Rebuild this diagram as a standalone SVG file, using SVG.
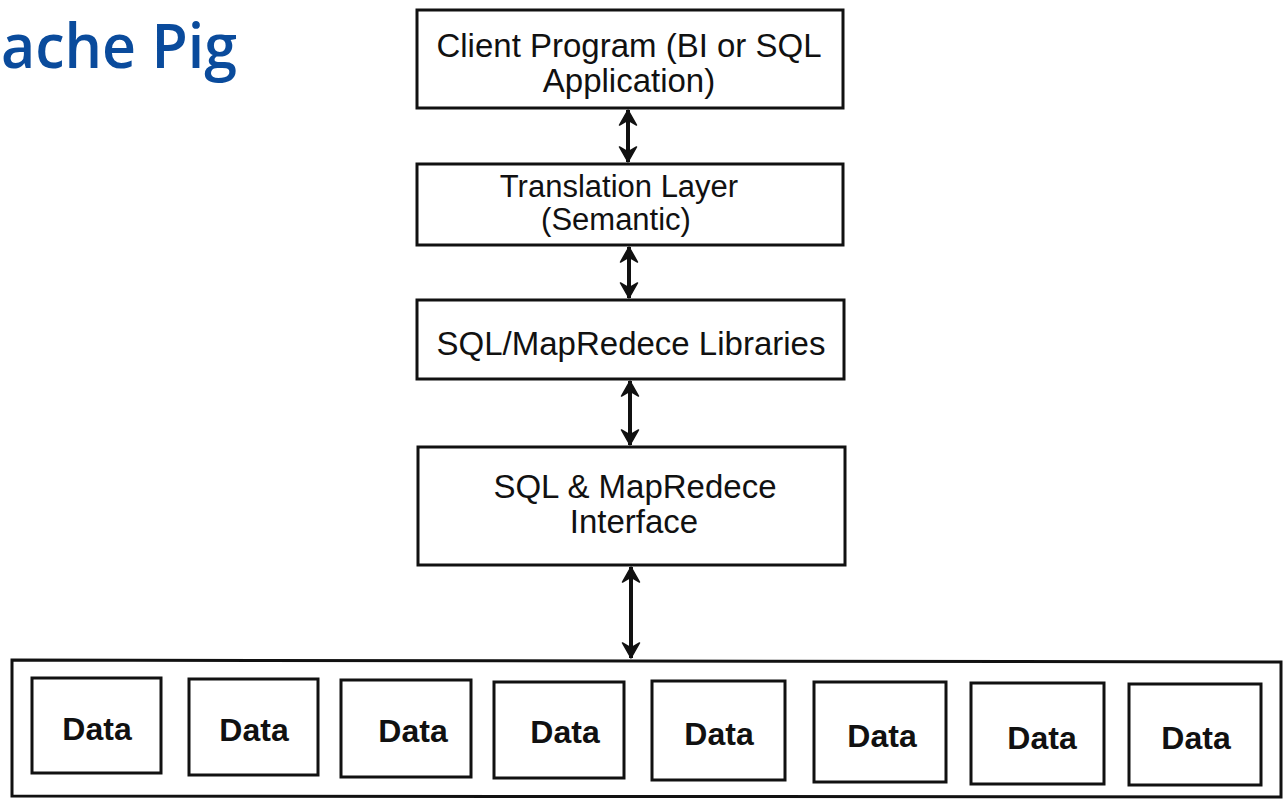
<svg xmlns="http://www.w3.org/2000/svg" width="1287" height="800" viewBox="0 0 1287 800">
  <defs>
    <marker id="head" viewBox="0 0 18 20" refX="16" refY="10" markerWidth="18" markerHeight="20" markerUnits="userSpaceOnUse" orient="auto-start-reverse">
      <path d="M1,1.5 L16,10 L1,18.5 L6,10 Z" fill="#111" stroke="#111" stroke-width="1.5" stroke-linejoin="round"/>
    </marker>
  </defs>
  <style>
    .box { fill: #fff; stroke: #111; stroke-width: 3; }
    .lbl { font-family: "Liberation Sans", Arial, sans-serif; font-size: 33px; fill: #111; text-anchor: middle; }
    .lbl.tight { font-size: 31px; }
    .data { font-family: "Liberation Sans", Arial, sans-serif; font-size: 32px; font-weight: bold; fill: #111; text-anchor: middle; }
    .link { stroke: #111; stroke-width: 4; fill: none; marker-start: url(#head); marker-end: url(#head); }
    .title { font-family: "Open Sans", "Noto Sans", sans-serif; font-weight: 600; font-size: 62px; fill: #0A4B9C; }
  </style>
  <rect width="1287" height="800" fill="#fff"/>

  <text class="title" x="1" y="68" textLength="236" lengthAdjust="spacingAndGlyphs">ache Pig</text>

  <g id="client">
    <rect class="box" x="417" y="10" width="426" height="98"/>
    <text class="lbl" x="629" y="57">Client Program (BI or SQL</text>
    <text class="lbl" x="629" y="92">Application)</text>
  </g>

  <g id="translation">
    <rect class="box" x="417" y="164" width="426" height="81"/>
    <text class="lbl tight" x="619" y="197">Translation Layer</text>
    <text class="lbl tight" x="616" y="230">(Semantic)</text>
  </g>

  <g id="libraries">
    <rect class="box" x="417" y="300" width="427" height="79"/>
    <text class="lbl" x="631" y="355">SQL/MapRedece Libraries</text>
  </g>

  <g id="interface">
    <rect class="box" x="418" y="447" width="427" height="118"/>
    <text class="lbl" x="635" y="498">SQL &amp; MapRedece</text>
    <text class="lbl" x="634" y="533">Interface</text>
  </g>

  <g id="storage">
    <path class="box" d="M12,660 L1281,662 L1281,797 L12,796 Z"/>
    <g id="data1"><rect class="box" x="32" y="678" width="129" height="95"/><text class="data" x="97" y="740">Data</text></g>
    <g id="data2"><rect class="box" x="189" y="679" width="129" height="96"/><text class="data" x="254" y="741">Data</text></g>
    <g id="data3"><rect class="box" x="341" y="680" width="130" height="97"/><text class="data" x="413" y="742">Data</text></g>
    <g id="data4"><rect class="box" x="494" y="682" width="130" height="96"/><text class="data" x="565" y="743">Data</text></g>
    <g id="data5"><rect class="box" x="652" y="681" width="133" height="99"/><text class="data" x="719" y="745">Data</text></g>
    <g id="data6"><rect class="box" x="814" y="682" width="132" height="100"/><text class="data" x="882" y="747">Data</text></g>
    <g id="data7"><rect class="box" x="971" y="683" width="133" height="101"/><text class="data" x="1042" y="749">Data</text></g>
    <g id="data8"><rect class="box" x="1129" y="684" width="132" height="101"/><text class="data" x="1196" y="749">Data</text></g>
  </g>

  <g id="connectors">
    <line class="link" x1="628" y1="110" x2="628" y2="162"/>
    <line class="link" x1="629" y1="247" x2="629" y2="298"/>
    <line class="link" x1="630" y1="381" x2="630" y2="445"/>
    <line class="link" x1="631" y1="567" x2="631" y2="658"/>
  </g>
</svg>
